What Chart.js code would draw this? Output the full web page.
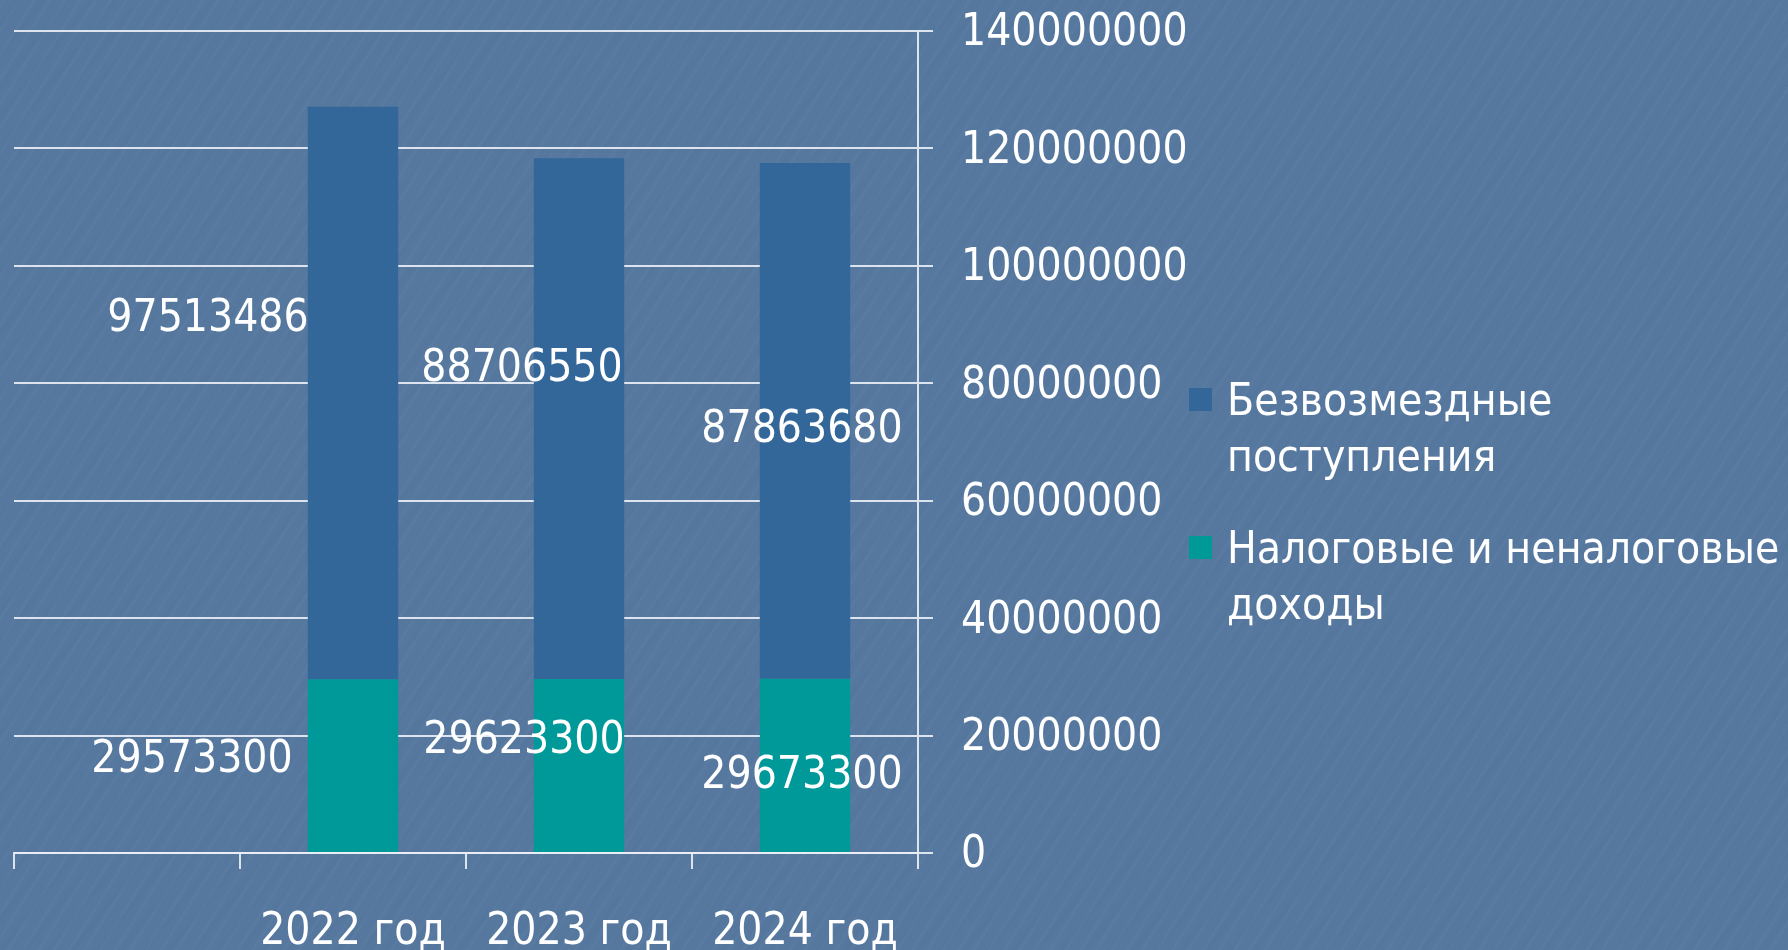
<!DOCTYPE html>
<html>
<head>
<meta charset="utf-8">
<script src="https://cdn.jsdelivr.net/npm/chart.js@4.4.1/dist/chart.umd.min.js"></script>
<style>
  html, body { margin: 0; padding: 0; }
  body {
    width: 1788px;
    height: 950px;
    overflow: hidden;
    background-color: #56789f;
    background-image:
      repeating-linear-gradient(-58deg, rgba(255,255,255,0.018) 0px, rgba(255,255,255,0.018) 3px, rgba(0,0,0,0) 3px, rgba(0,0,0,0) 13px),
      repeating-linear-gradient(-52deg, rgba(20,40,80,0.02) 0px, rgba(20,40,80,0.02) 5px, rgba(0,0,0,0) 5px, rgba(0,0,0,0) 19px);
  }
  #wrap { position: relative; width: 1788px; height: 950px; }
</style>
</head>
<body>
<div id="wrap"><canvas id="chart"></canvas></div>
<script>
"use strict";

// categories (first slot is empty in the original slide)
const years = ["", "2022 год", "2023 год", "2024 год"];

// series (bottom of the stack first)
const taxIncome = [null, 29573300, 29623300, 29673300];
const grants = [null, 97513486, 88706550, 87863680];

const seriesNames = [
  ["Налоговые и неналоговые", "доходы"],
  ["Безвозмездные", "поступления"]
];

// y axis ticks
const yMin = 0;
const yMax = 140000000;
const yStep = 20000000;

const BLUE = "#336699";
const TEAL = "#009999";
const FONT = "'DejaVu Sans Condensed', 'DejaVu Sans', sans-serif";

Chart.defaults.font.family = FONT;
Chart.defaults.font.size = 44;
Chart.defaults.color = "#ffffff";

// value labels were dragged by hand on the slide, so each one gets a nudge
const valueLabels = {
  id: "valueLabels",
  afterDatasetsDraw(chart, args, opts) {
    const ctx = chart.ctx;
    ctx.save();
    ctx.font = "44px " + FONT;
    ctx.fillStyle = "#ffffff";
    ctx.textAlign = "center";
    ctx.textBaseline = "middle";
    chart.data.datasets.forEach((ds, di) => {
      const meta = chart.getDatasetMeta(di);
      meta.data.forEach((bar, i) => {
        const v = ds.data[i];
        if (v == null) return;
        const nudge = opts.nudge[di][i];
        const cy = (bar.y + bar.base) / 2;
        ctx.fillText(String(v), bar.x + nudge[0], cy + nudge[1]);
      });
    });
    ctx.restore();
  }
};

const sideLegend = {
  id: "sideLegend",
  afterDraw(chart, args, opts) {
    const ctx = chart.ctx;
    ctx.save();
    ctx.font = "44px " + FONT;
    ctx.textAlign = "left";
    ctx.textBaseline = "alphabetic";
    let y = opts.top;
    // legend lists the top series first
    for (let di = chart.data.datasets.length - 1; di >= 0; di--) {
      const ds = chart.data.datasets[di];
      ctx.fillStyle = ds.backgroundColor;
      ctx.fillRect(opts.left, y, opts.box, opts.box);
      ctx.fillStyle = "#ffffff";
      ds.lines.forEach((line, li) => {
        ctx.fillText(line, opts.textLeft, y + opts.firstBaseline + li * opts.lineHeight);
      });
      y += opts.itemStep;
    }
    ctx.restore();
  }
};

const ctx = document.getElementById("chart").getContext("2d");
const chart = new Chart(ctx, {
  type: "bar",
  data: {
    labels: years,
    datasets: [
      {
        label: seriesNames[0].join(" "),
        lines: seriesNames[0],
        data: taxIncome,
        backgroundColor: TEAL,
        borderWidth: 0,
        categoryPercentage: 0.8,
        barPercentage: 0.5
      },
      {
        label: seriesNames[1].join(" "),
        lines: seriesNames[1],
        data: grants,
        backgroundColor: BLUE,
        borderWidth: 0,
        categoryPercentage: 0.8,
        barPercentage: 0.5
      }
    ]
  },
  plugins: [valueLabels, sideLegend],
  options: {
    responsive: true,
    maintainAspectRatio: false,
    animation: false,
    layout: { padding: { left: 14, top: 31, right: 590, bottom: 0 } },
    plugins: {
      legend: { display: false },
      tooltip: { enabled: false },
      valueLabels: {
        nudge: [
          [[0, 0], [-161, -5], [-55, -24], [-3, 11]],
          [[0, 0], [-145, -74], [-57, -49], [-3, 10]]
        ]
      },
      sideLegend: {
        left: 1189,
        top: 388,
        box: 23,
        textLeft: 1227,
        firstBaseline: 27,
        lineHeight: 56,
        itemStep: 148
      }
    },
    scales: {
      x: {
        stacked: true,
        grid: {
          display: true,
          drawOnChartArea: false,
          drawTicks: true,
          tickLength: 16,
          color: "rgba(235,240,248,0.9)",
          lineWidth: 2
        },
        border: { display: true, color: "rgba(235,240,248,0.9)", width: 2 },
        ticks: { padding: 37, maxRotation: 0, autoSkip: false },
        afterFit(scale) {
          scale.height = 97;
          scale.paddingLeft = 0;
          scale.paddingRight = 0;
        }
      },
      y: {
        stacked: true,
        position: "right",
        min: yMin,
        max: yMax,
        grid: {
          color: "rgba(235,240,248,0.9)",
          lineWidth: 2,
          tickLength: 15
        },
        border: { display: true, color: "rgba(235,240,248,0.9)", width: 2 },
        ticks: {
          stepSize: yStep,
          padding: 28,
          labelOffset: 3,
          callback: v => String(v)
        },
        afterFit(scale) {
          scale.width = 280;
          scale.paddingTop = 0;
          scale.paddingBottom = 0;
        }
      }
    }
  }
});
</script>
</body>
</html>
